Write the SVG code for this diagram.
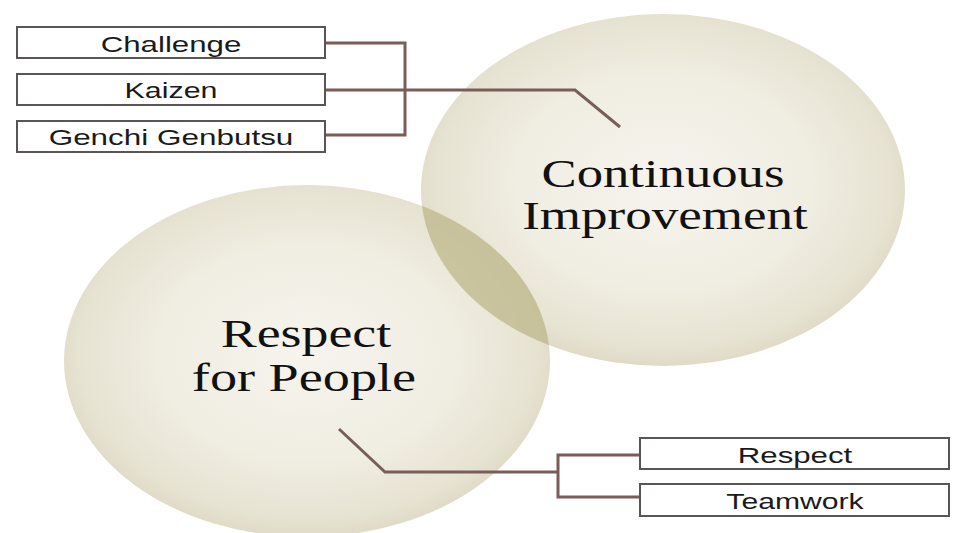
<svg xmlns="http://www.w3.org/2000/svg" width="957" height="533" viewBox="0 0 957 533">
<style>
.box{fill:#ffffff;stroke:#5a5555;stroke-width:2}
.lbl{font-family:"Liberation Sans",Arial,sans-serif;font-size:22px;fill:#1a1a1a;text-anchor:middle}
.big{font-family:"Liberation Serif","Times New Roman",serif;font-size:39px;fill:#111111;text-anchor:middle}
.con{fill:none;stroke:#7a5c58;stroke-width:3;stroke-linejoin:miter}
</style>
<defs>
<radialGradient id="sph" cx="50%" cy="48%" r="55%">
<stop offset="0" stop-color="#f6f4ed"/>
<stop offset="0.55" stop-color="#f0ede2"/>
<stop offset="0.85" stop-color="#e7e3d2"/>
<stop offset="1" stop-color="#dbd6c0"/>
</radialGradient>
<clipPath id="clipTop">
<ellipse cx="663" cy="190" rx="242" ry="176"/>
</clipPath>
</defs>
<rect width="957" height="533" fill="#ffffff"/>
<g id="circle-continuous">
<ellipse cx="663" cy="190" rx="242" ry="176" fill="url(#sph)"/>
</g>
<g id="circle-respect">
<ellipse cx="307" cy="361" rx="243" ry="176" fill="url(#sph)"/>
</g>
<g id="overlap">
<ellipse cx="307" cy="361" rx="243" ry="176" fill="#bdb789" opacity="0.75" clip-path="url(#clipTop)"/>
</g>
<g id="label-continuous">
<text class="big" transform="translate(663,187) scale(1.35,1)">Continuous</text>
<text class="big" transform="translate(665,229) scale(1.36,1)">Improvement</text>
</g>
<g id="label-respect">
<text class="big" transform="translate(306,347) scale(1.38,1)">Respect</text>
<text class="big" transform="translate(304,391) scale(1.39,1)">for People</text>
</g>
<g id="connectors">
<polyline class="con" points="325,43 405,43 405,135 325,135"/>
<polyline class="con" points="325,90 575,90 620,127"/>
<polyline class="con" points="339,429 385,472 558,472"/>
<polyline class="con" points="640,455 558,455 558,497 640,497"/>
</g>
<g id="node-challenge">
<rect class="box" x="17" y="27" width="308" height="31"/>
<text class="lbl" transform="translate(171,52) scale(1.42,1)">Challenge</text>
</g>
<g id="node-kaizen">
<rect class="box" x="17" y="74" width="308" height="31"/>
<text class="lbl" transform="translate(171,98) scale(1.38,1)">Kaizen</text>
</g>
<g id="node-genchi">
<rect class="box" x="17" y="121" width="308" height="31"/>
<text class="lbl" transform="translate(171,145) scale(1.43,1)">Genchi Genbutsu</text>
</g>
<g id="node-respect">
<rect class="box" x="640" y="438" width="309" height="31"/>
<text class="lbl" transform="translate(795,463) scale(1.42,1)">Respect</text>
</g>
<g id="node-teamwork">
<rect class="box" x="640" y="484" width="309" height="32"/>
<text class="lbl" transform="translate(795,509) scale(1.37,1)">Teamwork</text>
</g>
</svg>
